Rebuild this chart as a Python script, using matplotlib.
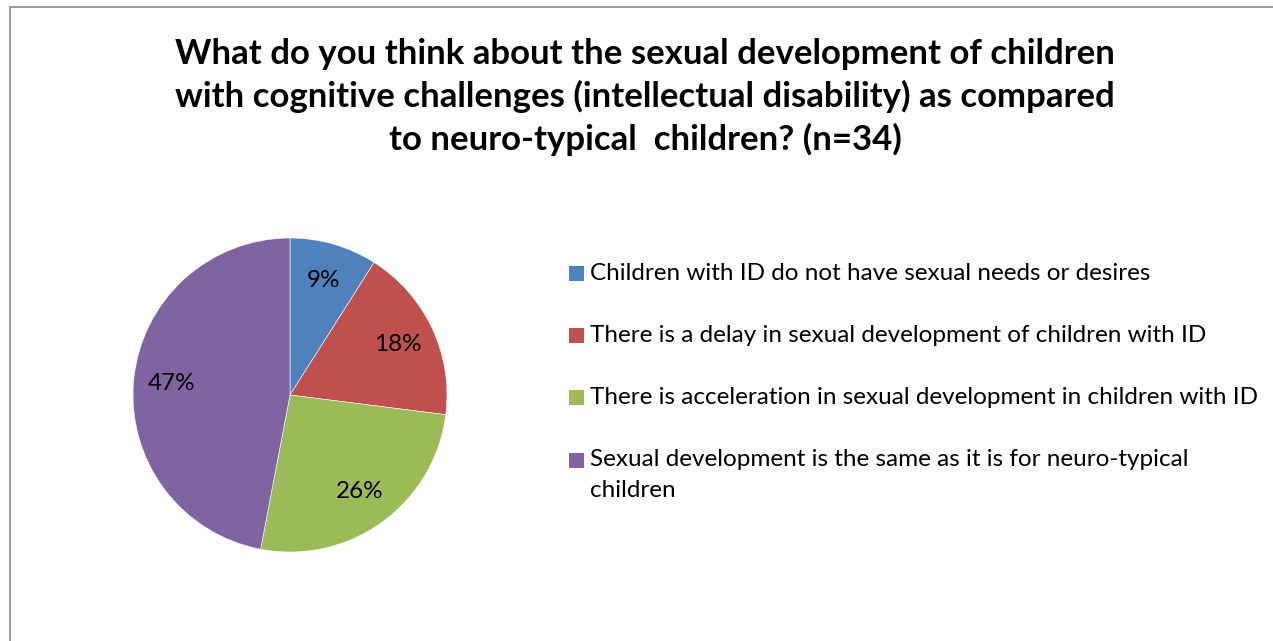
import matplotlib
matplotlib.use("Agg")
import matplotlib.pyplot as plt
from matplotlib.patches import Rectangle

plt.rcParams['font.family'] = ['Lato', 'DejaVu Sans']

# survey answers (percent of n=34)
answers = [
    "Children with ID do not have sexual needs or desires",
    "There is a delay in sexual development of children with ID",
    "There is acceleration in sexual development in children with ID",
    "Sexual development is the same as it is for neuro-typical\nchildren",
]
shares = [9, 18, 26, 47]
colors = ["#4F81BD", "#C0504D", "#9BBB59", "#8064A2"]

title = ("What do you think about the sexual development of children\n"
         "with cognitive challenges (intellectual disability) as compared\n"
         "to neuro-typical  children? (n=34)")

W, H = 1273, 641
fig = plt.figure(figsize=(W / 100, H / 100), dpi=100)

# chart frame
fig.patches.append(Rectangle((9.5 / W, -0.05), 1.1, (H - 7) / H + 0.05,
                             transform=fig.transFigure, fill=False,
                             edgecolor="#898989", linewidth=1.2))

fig.text(645 / W, 1 - 97 / H, title, ha="center", va="center",
         fontsize=25, fontweight="bold", linespacing=1.36)

# pie, centre (290, 395) px, radius 157 px
cx, cy, r = 290, 395, 157
ax = fig.add_axes([(cx - r) / W, 1 - (cy + r) / H, 2 * r / W, 2 * r / H])
ax.pie(shares, colors=colors, startangle=90, counterclock=False,
       autopct=lambda p: "%.0f%%" % p, pctdistance=0.76,
       textprops={"fontsize": 17.5, "color": "black"},
       wedgeprops={"edgecolor": "white", "linewidth": 0.4})
ax.set_xlim(-1, 1)
ax.set_ylim(-1, 1)
ax.set_aspect("auto")
ax.axis("off")

# legend entries
rows_y = [273, 335, 397, 460]
for lab, col, y in zip(answers, colors, rows_y):
    fig.patches.append(Rectangle((569 / W, 1 - (y + 7.5) / H), 15 / W, 15 / H,
                                 transform=fig.transFigure, facecolor=col,
                                 edgecolor="none"))
    fig.text(590 / W, 1 - (y - 10.5) / H, lab, ha="left", va="top",
             fontsize=17.5, linespacing=1.58)

fig.savefig("out.png", dpi=100)
